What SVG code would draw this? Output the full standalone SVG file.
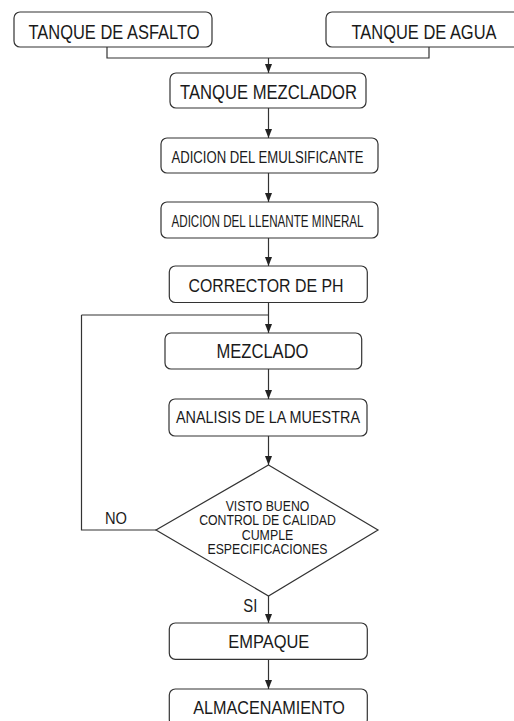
<svg xmlns="http://www.w3.org/2000/svg" width="514" height="721" viewBox="0 0 514 721">
<style>
.box{fill:#fff;stroke:#333;stroke-width:1.2}
.ln{fill:none;stroke:#333;stroke-width:1.2}
text{font-family:"Liberation Sans",Arial,sans-serif;fill:#1a1a1a;text-anchor:middle}
</style>
<defs>
<marker id="ah" markerUnits="userSpaceOnUse" markerWidth="10" markerHeight="8" refX="9" refY="3.5" orient="auto">
<path d="M0,0 L9,3.5 L0,7 z" fill="#222"/>
</marker>
</defs>
<rect width="514" height="721" fill="#fff"/>
<g id="connectors">
<path class="ln" d="M107,47 V58 H429 V47"/>
<path class="ln" d="M268.5,58 V73" marker-end="url(#ah)"/>
<path class="ln" d="M268.5,108 V138" marker-end="url(#ah)"/>
<path class="ln" d="M268.5,173 V202" marker-end="url(#ah)"/>
<path class="ln" d="M268.5,238 V266" marker-end="url(#ah)"/>
<path class="ln" d="M268.5,302.5 V333" marker-end="url(#ah)"/>
<path class="ln" d="M81.5,315 H268.5"/>
<path class="ln" d="M156,530 H81.5 V315"/>
<path class="ln" d="M268.5,369 V399" marker-end="url(#ah)"/>
<path class="ln" d="M268.5,436 V465" marker-end="url(#ah)"/>
<path class="ln" d="M268.5,596 V623" marker-end="url(#ah)"/>
<path class="ln" d="M268.5,659 V689" marker-end="url(#ah)"/>
<text x="116" y="523.5" font-size="17" textLength="22" lengthAdjust="spacingAndGlyphs">NO</text>
<text x="250.3" y="611.7" font-size="18" textLength="14" lengthAdjust="spacingAndGlyphs">SI</text>
</g>
<g id="n-asfalto">
<rect class="box" x="14" y="12" width="198" height="35" rx="6"/>
<text x="114" y="39" font-size="19.5" textLength="171" lengthAdjust="spacingAndGlyphs">TANQUE DE ASFALTO</text>
</g>
<g id="n-agua">
<rect class="box" x="326" y="12" width="200" height="35" rx="6"/>
<text x="424" y="39" font-size="19.5" textLength="145" lengthAdjust="spacingAndGlyphs">TANQUE DE AGUA</text>
</g>
<g id="n-mezclador">
<rect class="box" x="170" y="73" width="196" height="35" rx="6"/>
<text x="268.5" y="98.5" font-size="19.5" textLength="177" lengthAdjust="spacingAndGlyphs">TANQUE MEZCLADOR</text>
</g>
<g id="n-emulsificante">
<rect class="box" x="161" y="138" width="217" height="35" rx="6"/>
<text x="267.5" y="163" font-size="16" textLength="192" lengthAdjust="spacingAndGlyphs">ADICION DEL EMULSIFICANTE</text>
</g>
<g id="n-llenante">
<rect class="box" x="161" y="202" width="217" height="36" rx="6"/>
<text x="267.5" y="226.5" font-size="16" textLength="192" lengthAdjust="spacingAndGlyphs">ADICION DEL LLENANTE MINERAL</text>
</g>
<g id="n-corrector">
<rect class="box" x="169.3" y="266" width="198" height="36.5" rx="6"/>
<text x="266" y="291.5" font-size="18.5" textLength="155" lengthAdjust="spacingAndGlyphs">CORRECTOR DE PH</text>
</g>
<g id="n-mezclado">
<rect class="box" x="165" y="333" width="196.7" height="36" rx="6"/>
<text x="262.5" y="358.3" font-size="20" textLength="92" lengthAdjust="spacingAndGlyphs">MEZCLADO</text>
</g>
<g id="n-analisis">
<rect class="box" x="169" y="399" width="198" height="37" rx="6"/>
<text x="268" y="423.3" font-size="16.5" textLength="184" lengthAdjust="spacingAndGlyphs">ANALISIS DE LA MUESTRA</text>
</g>
<g id="n-decision">
<polygon class="box" points="268.5,465 378,530 268.5,596 156,530"/>
<text x="267.5" y="510.5" font-size="14.5" textLength="83.6" lengthAdjust="spacingAndGlyphs">VISTO BUENO</text>
<text x="267.5" y="525" font-size="14.5" textLength="136.7" lengthAdjust="spacingAndGlyphs">CONTROL DE CALIDAD</text>
<text x="267.5" y="539.5" font-size="14.5" textLength="51.6" lengthAdjust="spacingAndGlyphs">CUMPLE</text>
<text x="267.5" y="554" font-size="14.5" textLength="120" lengthAdjust="spacingAndGlyphs">ESPECIFICACIONES</text>
</g>
<g id="n-empaque">
<rect class="box" x="169.3" y="623" width="198" height="36.3" rx="6"/>
<text x="268.8" y="648.3" font-size="18.5" textLength="81" lengthAdjust="spacingAndGlyphs">EMPAQUE</text>
</g>
<g id="n-almacenamiento">
<rect class="box" x="169.3" y="689" width="198" height="36.5" rx="6"/>
<text x="269" y="714" font-size="19" textLength="151.7" lengthAdjust="spacingAndGlyphs">ALMACENAMIENTO</text>
</g>
</svg>
